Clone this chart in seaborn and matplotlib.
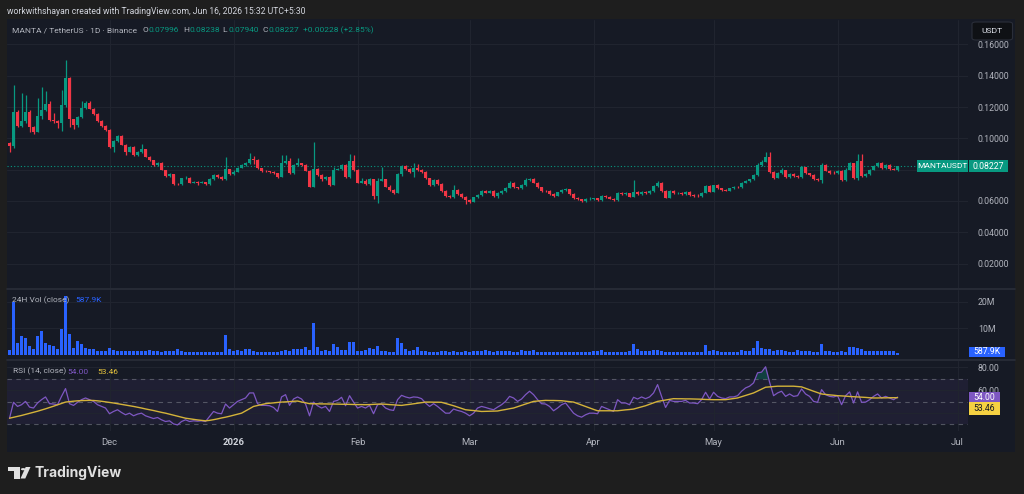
import numpy as np
import pandas as pd
import matplotlib
matplotlib.use("Agg")
import matplotlib.pyplot as plt
import matplotlib.dates as mdates
from matplotlib.patches import Rectangle, Circle, Polygon, FancyBboxPatch
from matplotlib.lines import Line2D
import seaborn as sns

# ---------------- data ----------------
start_date = "2025-11-06"

opens = [
    0.0969, 0.0952, 0.1170, 0.1080, 0.1110, 0.1170, 0.1075, 0.1043, 0.1140, 0.1180,
    0.1220, 0.1118, 0.1110, 0.1096, 0.1213, 0.1384, 0.1122, 0.1086, 0.1135, 0.1192,
    0.1224, 0.1190, 0.1156, 0.1110, 0.1080, 0.1054, 0.0943, 0.0986, 0.1015, 0.0960,
    0.0915, 0.0943, 0.0894, 0.0915, 0.0930, 0.0884, 0.0860, 0.0830, 0.0845, 0.0798,
    0.0760, 0.0772, 0.0709, 0.0707, 0.0745, 0.0750, 0.0717, 0.0722, 0.0715, 0.0722,
    0.0709, 0.0740, 0.0766, 0.0755, 0.0740, 0.0802, 0.0772, 0.0788, 0.0813, 0.0830,
    0.0841, 0.0868, 0.0862, 0.0809, 0.0792, 0.0790, 0.0786, 0.0777, 0.0755, 0.0841,
    0.0856, 0.0781, 0.0830, 0.0841, 0.0830, 0.0794, 0.0692, 0.0802, 0.0766, 0.0738,
    0.0755, 0.0703, 0.0798, 0.0802, 0.0830, 0.0751, 0.0858, 0.0798, 0.0717, 0.0730,
    0.0710, 0.0738, 0.0632, 0.0730, 0.0738, 0.0692, 0.0671, 0.0653, 0.0772, 0.0824,
    0.0803, 0.0787, 0.0808, 0.0798, 0.0787, 0.0745, 0.0702, 0.0734, 0.0709, 0.0664,
    0.0632, 0.0628, 0.0670, 0.0645, 0.0624, 0.0607, 0.0596, 0.0624, 0.0638, 0.0666,
    0.0653, 0.0664, 0.0632, 0.0649, 0.0664, 0.0685, 0.0717, 0.0687, 0.0681, 0.0702,
    0.0734, 0.0738, 0.0717, 0.0687, 0.0666, 0.0662, 0.0645, 0.0634, 0.0655, 0.0670,
    0.0674, 0.0645, 0.0621, 0.0611, 0.0600, 0.0611, 0.0615, 0.0617, 0.0607, 0.0632,
    0.0628, 0.0615, 0.0607, 0.0653, 0.0645, 0.0649, 0.0628, 0.0660, 0.0645, 0.0660,
    0.0649, 0.0664, 0.0696, 0.0717, 0.0664, 0.0621, 0.0664, 0.0649, 0.0653, 0.0645,
    0.0660, 0.0638, 0.0632, 0.0630, 0.0653, 0.0696, 0.0660, 0.0700, 0.0681, 0.0671,
    0.0666, 0.0681, 0.0692, 0.0688, 0.0717, 0.0728, 0.0738, 0.0766, 0.0830, 0.0851,
    0.0883, 0.0787, 0.0749, 0.0776, 0.0798, 0.0755, 0.0772, 0.0760, 0.0755, 0.0815,
    0.0777, 0.0766, 0.0741, 0.0734, 0.0830, 0.0794, 0.0781, 0.0777, 0.0794, 0.0734,
    0.0798, 0.0840, 0.0745, 0.0858, 0.0760, 0.0772, 0.0798, 0.0824, 0.0845, 0.0809,
    0.0830, 0.0802, 0.07996,
]
highs = [
    0.0975, 0.1340, 0.1180, 0.1290, 0.1280, 0.1180, 0.1080, 0.1260, 0.1330, 0.1300,
    0.1240, 0.1160, 0.1115, 0.1310, 0.1501, 0.1390, 0.1125, 0.1140, 0.1240, 0.1240,
    0.1240, 0.1195, 0.1160, 0.1115, 0.1085, 0.1060, 0.0990, 0.1022, 0.1020, 0.0965,
    0.0950, 0.0950, 0.0920, 0.0965, 0.0935, 0.0890, 0.0862, 0.0850, 0.0848, 0.0800,
    0.0778, 0.0775, 0.0716, 0.0750, 0.0760, 0.0755, 0.0728, 0.0725, 0.0726, 0.0724,
    0.0745, 0.0775, 0.0772, 0.0758, 0.0883, 0.0805, 0.0795, 0.0818, 0.0835, 0.0848,
    0.0909, 0.0885, 0.0868, 0.0812, 0.0796, 0.0793, 0.0790, 0.0780, 0.0894, 0.0894,
    0.0875, 0.0835, 0.0875, 0.0845, 0.0836, 0.0800, 0.0979, 0.0808, 0.0770, 0.0760,
    0.0760, 0.0820, 0.0810, 0.0838, 0.0838, 0.0900, 0.0894, 0.0802, 0.0745, 0.0740,
    0.0745, 0.0742, 0.0745, 0.0820, 0.0742, 0.0700, 0.0675, 0.0780, 0.0830, 0.0828,
    0.0810, 0.0840, 0.0836, 0.0805, 0.0792, 0.0748, 0.0740, 0.0738, 0.0712, 0.0668,
    0.0640, 0.0700, 0.0676, 0.0650, 0.0630, 0.0612, 0.0628, 0.0642, 0.0672, 0.0670,
    0.0668, 0.0668, 0.0655, 0.0670, 0.0692, 0.0730, 0.0722, 0.0692, 0.0708, 0.0748,
    0.0750, 0.0748, 0.0720, 0.0690, 0.0670, 0.0668, 0.0648, 0.0660, 0.0676, 0.0680,
    0.0678, 0.0648, 0.0625, 0.0614, 0.0616, 0.0625, 0.0622, 0.0620, 0.0640, 0.0636,
    0.0632, 0.0620, 0.0660, 0.0656, 0.0655, 0.0652, 0.0734, 0.0665, 0.0664, 0.0666,
    0.0670, 0.0702, 0.0730, 0.0722, 0.0668, 0.0670, 0.0668, 0.0660, 0.0658, 0.0665,
    0.0665, 0.0645, 0.0642, 0.0658, 0.0702, 0.0702, 0.0705, 0.0708, 0.0685, 0.0675,
    0.0686, 0.0696, 0.0695, 0.0722, 0.0735, 0.0742, 0.0772, 0.0842, 0.0860, 0.0911,
    0.0911, 0.0790, 0.0785, 0.0808, 0.0800, 0.0778, 0.0778, 0.0768, 0.0822, 0.0820,
    0.0782, 0.0770, 0.0745, 0.0845, 0.0835, 0.0800, 0.0790, 0.0800, 0.0798, 0.0808,
    0.0850, 0.0845, 0.0898, 0.0898, 0.0780, 0.0802, 0.0830, 0.0852, 0.0850, 0.0835,
    0.0835, 0.0812, 0.08238,
]
lows = [
    0.0910, 0.0940, 0.1070, 0.1075, 0.1100, 0.1040, 0.1030, 0.1040, 0.1125, 0.1175,
    0.1110, 0.1100, 0.1065, 0.1050, 0.1200, 0.1070, 0.1060, 0.1070, 0.1130, 0.1185,
    0.1185, 0.1150, 0.1105, 0.1075, 0.1045, 0.0938, 0.0915, 0.0975, 0.0955, 0.0895,
    0.0910, 0.0885, 0.0888, 0.0905, 0.0880, 0.0855, 0.0825, 0.0825, 0.0795, 0.0755,
    0.0755, 0.0700, 0.0700, 0.0700, 0.0740, 0.0712, 0.0712, 0.0705, 0.0712, 0.0702,
    0.0705, 0.0735, 0.0750, 0.0735, 0.0735, 0.0765, 0.0768, 0.0785, 0.0808, 0.0825,
    0.0838, 0.0835, 0.0805, 0.0785, 0.0786, 0.0782, 0.0772, 0.0750, 0.0752, 0.0838,
    0.0775, 0.0775, 0.0826, 0.0825, 0.0790, 0.0690, 0.0690, 0.0760, 0.0730, 0.0735,
    0.0698, 0.0700, 0.0795, 0.0798, 0.0745, 0.0748, 0.0790, 0.0712, 0.0712, 0.0705,
    0.0705, 0.0615, 0.0585, 0.0728, 0.0688, 0.0665, 0.0645, 0.0650, 0.0760, 0.0798,
    0.0782, 0.0752, 0.0792, 0.0782, 0.0740, 0.0698, 0.0698, 0.0705, 0.0660, 0.0628,
    0.0622, 0.0622, 0.0640, 0.0620, 0.0580, 0.0590, 0.0592, 0.0620, 0.0634, 0.0648,
    0.0650, 0.0628, 0.0622, 0.0645, 0.0660, 0.0680, 0.0682, 0.0675, 0.0678, 0.0698,
    0.0730, 0.0712, 0.0682, 0.0660, 0.0658, 0.0640, 0.0628, 0.0630, 0.0650, 0.0665,
    0.0640, 0.0615, 0.0605, 0.0595, 0.0596, 0.0605, 0.0608, 0.0602, 0.0602, 0.0622,
    0.0610, 0.0602, 0.0603, 0.0640, 0.0640, 0.0624, 0.0624, 0.0640, 0.0640, 0.0645,
    0.0645, 0.0660, 0.0690, 0.0660, 0.0617, 0.0617, 0.0645, 0.0645, 0.0640, 0.0640,
    0.0634, 0.0628, 0.0626, 0.0628, 0.0650, 0.0655, 0.0655, 0.0678, 0.0666, 0.0662,
    0.0662, 0.0676, 0.0680, 0.0684, 0.0712, 0.0722, 0.0732, 0.0762, 0.0825, 0.0846,
    0.0780, 0.0740, 0.0745, 0.0770, 0.0750, 0.0750, 0.0755, 0.0750, 0.0750, 0.0770,
    0.0760, 0.0735, 0.0725, 0.0716, 0.0790, 0.0775, 0.0770, 0.0772, 0.0728, 0.0730,
    0.0795, 0.0738, 0.0735, 0.0755, 0.0755, 0.0765, 0.0795, 0.0818, 0.0805, 0.0802,
    0.0798, 0.0795, 0.07940,
]
closes = [
    0.0952, 0.1170, 0.1080, 0.1110, 0.1170, 0.1075, 0.1043, 0.1140, 0.1180, 0.1220,
    0.1118, 0.1110, 0.1096, 0.1213, 0.1384, 0.1122, 0.1086, 0.1135, 0.1192, 0.1224,
    0.1190, 0.1156, 0.1110, 0.1080, 0.1054, 0.0943, 0.0986, 0.1015, 0.0960, 0.0915,
    0.0943, 0.0894, 0.0915, 0.0930, 0.0884, 0.0860, 0.0830, 0.0845, 0.0798, 0.0760,
    0.0772, 0.0709, 0.0707, 0.0745, 0.0750, 0.0717, 0.0722, 0.0715, 0.0722, 0.0709,
    0.0740, 0.0766, 0.0755, 0.0740, 0.0802, 0.0772, 0.0788, 0.0813, 0.0830, 0.0841,
    0.0868, 0.0862, 0.0809, 0.0792, 0.0790, 0.0786, 0.0777, 0.0755, 0.0841, 0.0856,
    0.0781, 0.0830, 0.0841, 0.0830, 0.0794, 0.0692, 0.0802, 0.0766, 0.0738, 0.0755,
    0.0703, 0.0798, 0.0802, 0.0830, 0.0751, 0.0858, 0.0798, 0.0717, 0.0730, 0.0710,
    0.0738, 0.0632, 0.0730, 0.0738, 0.0692, 0.0671, 0.0653, 0.0772, 0.0824, 0.0803,
    0.0787, 0.0808, 0.0798, 0.0787, 0.0745, 0.0702, 0.0734, 0.0709, 0.0664, 0.0632,
    0.0628, 0.0670, 0.0645, 0.0624, 0.0607, 0.0596, 0.0624, 0.0638, 0.0666, 0.0653,
    0.0664, 0.0632, 0.0649, 0.0664, 0.0685, 0.0717, 0.0687, 0.0681, 0.0702, 0.0734,
    0.0738, 0.0717, 0.0687, 0.0666, 0.0662, 0.0645, 0.0634, 0.0655, 0.0670, 0.0674,
    0.0645, 0.0621, 0.0611, 0.0600, 0.0611, 0.0615, 0.0617, 0.0607, 0.0632, 0.0628,
    0.0615, 0.0607, 0.0653, 0.0645, 0.0649, 0.0628, 0.0660, 0.0645, 0.0660, 0.0649,
    0.0664, 0.0696, 0.0717, 0.0664, 0.0621, 0.0664, 0.0649, 0.0653, 0.0645, 0.0660,
    0.0638, 0.0632, 0.0630, 0.0653, 0.0696, 0.0660, 0.0700, 0.0681, 0.0671, 0.0666,
    0.0681, 0.0692, 0.0688, 0.0717, 0.0728, 0.0738, 0.0766, 0.0830, 0.0851, 0.0883,
    0.0787, 0.0749, 0.0776, 0.0798, 0.0755, 0.0772, 0.0760, 0.0755, 0.0815, 0.0777,
    0.0766, 0.0741, 0.0734, 0.0830, 0.0794, 0.0781, 0.0777, 0.0794, 0.0734, 0.0798,
    0.0840, 0.0745, 0.0858, 0.0760, 0.0772, 0.0798, 0.0824, 0.0845, 0.0809, 0.0830,
    0.0802, 0.0800, 0.08227,
]
volumes_m = [
    1.7, 20.1, 4.5, 7.2, 6.2, 3.3, 2.2, 7.2, 9.1, 4.3,
    3.5, 3.3, 2.0, 9.6, 22.3, 7.7, 2.4, 5.3, 4.0, 2.4,
    2.2, 2.2, 1.5, 1.5, 1.5, 2.5, 1.7, 1.5, 1.5, 1.2,
    1.5, 1.2, 1.2, 1.4, 1.4, 1.9, 1.5, 1.4, 1.0, 1.5,
    1.5, 1.5, 2.2, 1.5, 1.0, 1.0, 1.0, 1.0, 1.0, 1.0,
    1.1, 1.0, 1.1, 1.0, 7.5, 2.2, 1.2, 1.6, 1.4, 2.0,
    2.0, 1.2, 1.0, 1.0, 0.9, 1.0, 1.0, 1.0, 1.5, 1.9,
    1.2, 2.1, 2.0, 2.2, 2.8, 1.7, 11.9, 3.0, 1.2, 1.7,
    1.2, 3.9, 2.8, 1.7, 1.7, 4.8, 4.9, 1.5, 1.5, 1.7,
    2.4, 2.2, 3.3, 1.5, 1.2, 1.0, 1.0, 6.2, 4.3, 2.1,
    1.5, 1.7, 3.0, 1.2, 1.2, 1.1, 1.1, 1.0, 1.2, 1.2,
    1.0, 1.2, 1.1, 1.0, 1.2, 1.0, 1.2, 1.5, 1.2, 1.7,
    1.2, 1.0, 1.2, 1.2, 1.2, 1.2, 1.0, 1.1, 1.6, 1.2,
    1.2, 1.7, 0.9, 0.9, 0.9, 0.9, 0.9, 0.9, 0.9, 1.0,
    0.9, 0.9, 0.9, 1.0, 1.0, 1.1, 1.2, 1.2, 1.6, 1.0,
    1.0, 1.0, 1.0, 1.0, 1.1, 1.2, 3.9, 2.1, 1.5, 1.2,
    1.2, 1.9, 1.9, 1.5, 1.0, 0.9, 0.9, 0.9, 0.9, 0.9,
    1.0, 0.9, 1.0, 1.0, 3.5, 1.4, 1.7, 1.2, 1.0, 1.0,
    1.0, 1.0, 1.0, 1.7, 1.5, 1.5, 2.4, 5.3, 2.4, 2.2,
    2.2, 1.4, 1.7, 1.6, 1.2, 1.0, 1.0, 1.6, 1.5, 1.5,
    1.2, 1.0, 1.0, 3.9, 1.5, 1.2, 1.0, 1.0, 1.2, 1.0,
    2.9, 2.9, 2.5, 2.2, 1.5, 1.5, 1.4, 1.2, 1.4, 1.2,
    1.2, 1.2, 0.5879,
]
rsi_values = [
    35.5, 49.4, 45.8, 47.3, 50.2, 45.2, 44.4, 48.8, 51.7, 54.1,
    48.2, 47.9, 47.3, 54.6, 61.4, 48.2, 46.7, 49.4, 51.7, 53.2,
    51.7, 50.2, 47.3, 45.8, 44.4, 39.4, 41.4, 42.9, 40.5, 38.5,
    39.9, 37.6, 39.1, 39.9, 37.6, 36.4, 35.2, 36.1, 34.1, 32.6,
    33.2, 30.5, 29.6, 32.6, 34.1, 32.6, 33.2, 32.9, 33.2, 32.6,
    37.0, 41.4, 39.9, 39.4, 47.9, 44.4, 47.3, 50.2, 51.7, 53.2,
    57.6, 57.6, 48.2, 46.7, 46.7, 46.4, 44.9, 41.4, 54.1, 56.1,
    46.7, 52.3, 54.1, 52.3, 47.9, 37.6, 49.6, 46.4, 44.4, 45.8,
    41.4, 50.2, 51.1, 53.8, 46.4, 55.2, 49.6, 44.4, 45.8, 44.4,
    46.7, 39.4, 47.3, 47.9, 44.4, 42.9, 42.3, 51.7, 55.5, 54.1,
    53.2, 54.1, 53.8, 52.6, 48.8, 45.8, 48.2, 45.8, 42.9, 39.9,
    39.9, 43.5, 42.3, 41.4, 39.9, 37.6, 39.9, 44.4, 45.8, 44.9,
    43.8, 42.9, 45.2, 47.3, 50.2, 54.6, 53.2, 50.2, 52.3, 56.1,
    59.1, 56.1, 51.7, 48.2, 47.9, 45.8, 42.0, 44.4, 47.3, 48.8,
    44.4, 39.9, 37.6, 36.4, 38.5, 39.9, 39.9, 39.4, 45.8, 44.4,
    42.9, 41.4, 51.7, 48.8, 48.8, 47.3, 53.8, 52.3, 54.1, 52.6,
    54.1, 57.6, 64.9, 54.6, 44.9, 51.1, 50.2, 50.2, 50.2, 51.1,
    48.8, 48.8, 48.2, 51.7, 58.2, 52.3, 58.2, 54.6, 53.2, 52.6,
    54.1, 54.1, 55.2, 59.1, 62.0, 63.5, 66.4, 75.2, 75.8, 80.5,
    67.0, 55.2, 57.6, 59.1, 54.6, 56.7, 54.6, 55.2, 61.1, 56.7,
    54.6, 50.2, 49.4, 60.5, 56.1, 54.6, 54.1, 55.2, 47.3, 55.2,
    58.5, 48.8, 58.5, 49.4, 49.6, 51.7, 54.6, 56.7, 53.2, 54.6,
    53.2, 51.7, 54.0,
]
rsi_ma_values = [
    35.5, 36.3, 37.1, 37.9, 38.8, 39.7, 40.6, 41.6, 42.6, 43.7,
    44.8, 46.0, 47.2, 48.4, 49.6, 50.0, 50.4, 50.7, 50.9, 51.0,
    51.1, 51.0, 50.7, 50.3, 49.8, 49.3, 48.8, 48.2, 47.6, 47.0,
    46.4, 45.8, 45.1, 44.4, 43.6, 42.9, 42.2, 41.4, 40.6, 39.9,
    39.0, 38.1, 37.2, 36.3, 35.5, 35.0, 34.5, 34.0, 33.6, 33.2,
    33.6, 34.2, 34.9, 35.7, 36.4, 37.2, 38.1, 39.0, 39.9, 41.8,
    43.8, 45.8, 46.6, 47.4, 48.2, 48.6, 48.9, 49.3, 49.6, 49.8,
    50.0, 50.3, 50.5, 49.7, 49.0, 48.2, 48.1, 48.1, 48.0, 48.0,
    47.9, 47.9, 47.8, 47.7, 47.7, 47.6, 47.5, 47.4, 47.4, 47.3,
    47.4, 47.6, 47.8, 47.9, 47.7, 47.4, 47.2, 46.9, 46.7, 47.2,
    47.6, 48.1, 48.6, 49.1, 49.6, 49.6, 49.5, 49.5, 49.4, 48.4,
    47.4, 46.4, 45.2, 44.1, 42.9, 42.5, 42.2, 41.8, 41.4, 41.5,
    41.6, 41.7, 41.8, 42.5, 43.1, 43.8, 44.4, 45.6, 46.7, 47.9,
    49.0, 50.2, 50.5, 50.8, 51.1, 51.0, 51.0, 50.9, 50.8, 50.4,
    50.0, 49.6, 48.3, 47.0, 45.7, 44.4, 43.2, 42.0, 42.0, 42.0,
    42.0, 42.0, 42.0, 42.4, 42.8, 43.1, 43.5, 44.5, 45.4, 46.4,
    47.7, 48.9, 50.2, 50.8, 51.4, 52.0, 52.6, 52.5, 52.5, 52.4,
    52.4, 52.3, 52.2, 52.1, 51.9, 51.8, 51.7, 51.7, 51.7, 51.7,
    52.2, 52.7, 53.2, 54.3, 55.4, 56.5, 57.6, 59.3, 60.9, 62.6,
    62.9, 63.2, 63.5, 63.5, 63.5, 63.5, 63.5, 63.2, 62.9, 61.6,
    60.4, 59.1, 57.9, 56.7, 56.3, 55.9, 55.6, 55.2, 55.0, 54.8,
    54.5, 54.3, 54.1, 53.9, 53.7, 53.4, 53.2, 53.2, 53.3, 53.3,
    53.4, 53.4, 53.46,
]
price_ticks = [0.02, 0.04, 0.06, 0.08, 0.10, 0.12, 0.14, 0.16]
volume_ticks_m = [10, 20]
rsi_ticks = [40, 60, 80]
rsi_levels = [70, 50, 30]
month_dates = ["2025-12-01", "2026-01-01", "2026-02-01", "2026-03-01",
               "2026-04-01", "2026-05-01", "2026-06-01", "2026-07-01"]
month_labels = ["Dec", "2026", "Feb", "Mar", "Apr", "May", "Jun", "Jul"]

n = len(closes)
assert all(len(a) == n for a in (opens, highs, lows, volumes_m, rsi_values, rsi_ma_values))

# ---------------- style ----------------
sns.set_style("dark")
FONT = ["Roboto", "DejaVu Sans"]
plt.rcParams["font.family"] = FONT

OUTER = "#1e1e1e"
CHART_BG = "#161a25"
GRID = "#20242f"
SEP = "#2a2e39"
UP = "#089981"
DOWN = "#f23645"
VOL = "#2962ff"
RSI_C = "#7e57c2"
MA_LINE = "#d4b33a"
MA_BOX = "#f5d142"
TXT = "#b2b5be"
HEAD = "#d1d4dc"
LEG = 6.0

W, H = 1024, 494
fig = plt.figure(figsize=(W / 100, H / 100), dpi=100, facecolor=OUTER)


def rect(x0, y0, x1, y1):
    return [x0 / W, 1 - y1 / H, (x1 - x0) / W, (y1 - y0) / H]


def ftext(x, y, s, **kw):
    kw.setdefault("va", "center")
    return fig.text(x / W, 1 - y / H, s, **kw)


def fbox(x0, y0, x1, y1, color, z=6, **kw):
    p = Rectangle((x0 / W, 1 - y1 / H), (x1 - x0) / W, (y1 - y0) / H,
                  transform=fig.transFigure, facecolor=color, zorder=z, **kw)
    fig.add_artist(p)
    return p


# chart panel background
fbox(7, 19, 1015, 452, CHART_BG, z=-1, edgecolor="none")

ax_p = fig.add_axes(rect(7, 20, 968, 288))
ax_v = fig.add_axes(rect(7, 290, 968, 358))
ax_r = fig.add_axes(rect(7, 361, 968, 431))

dates = pd.date_range(start_date, periods=n, freq="D")
x = mdates.date2num(dates)
month_x = mdates.date2num(pd.to_datetime(month_dates))
xmin, xmax = x[0] - 0.63, x[0] + 239.6

o = np.array(opens); h = np.array(highs); l = np.array(lows); c = np.array(closes)
up = c >= o
cols = np.where(up, UP, DOWN)

for ax in (ax_p, ax_v, ax_r):
    ax.set_facecolor(CHART_BG)
    for s in ax.spines.values():
        s.set_visible(False)
    ax.set_axisbelow(True)
    ax.set_xticks(month_x)
    ax.grid(True, color=GRID, lw=0.8)
    ax.yaxis.tick_right()
    ax.tick_params(axis="both", length=0, colors=TXT, labelsize=6.3, pad=7)

# ---------------- price candles ----------------
ax_p.vlines(x, np.minimum(l, np.minimum(o, c)), np.maximum(h, np.maximum(o, c)),
            colors=cols, lw=0.9, zorder=2)
ax_p.bar(x, np.maximum(np.abs(c - o), 0.00045), bottom=np.minimum(o, c),
         width=0.66, color=cols, lw=0, zorder=3)
ax_p.axhline(c[-1], color=UP, lw=0.8, ls=(0, (1, 2)), zorder=1)
ax_p.set_ylim(0.00441, 0.17565)
ax_p.set_yticks(price_ticks)
# the 0.08 label sits completely under the last-price tag in the reference
ax_p.set_yticklabels(["" if abs(v - 0.08) < 1e-9 else f"{v:.5f}" for v in price_ticks])
ax_p.tick_params(labelbottom=False)

# ---------------- volume ----------------
ax_v.bar(x, volumes_m, width=0.75, color=VOL, lw=0, zorder=2)
ax_v.set_ylim(-1.29, 24.56)
ax_v.set_yticks(volume_ticks_m)
ax_v.set_yticklabels([f"{v}M" for v in volume_ticks_m])
ax_v.tick_params(labelbottom=False)

# ---------------- RSI ----------------
rsi = np.array(rsi_values)
ax_r.axhspan(30, 70, color=RSI_C, alpha=0.09, lw=0, zorder=0)
for lv in rsi_levels:
    ax_r.axhline(lv, color="#787b86", lw=0.8, ls=(0, (4, 4)), alpha=0.6, zorder=1)
ax_r.fill_between(x, rsi, 70, where=rsi > 70, interpolate=True,
                  color=UP, alpha=0.3, lw=0, zorder=1)
sns.lineplot(x=x, y=rsi_values, ax=ax_r, color=RSI_C, lw=0.9, zorder=3, legend=False)
sns.lineplot(x=x, y=rsi_ma_values, ax=ax_r, color=MA_LINE, lw=1.0, zorder=4, legend=False)
ax_r.set_xlabel(""); ax_r.set_ylabel("")
ax_r.set_ylim(24.3, 85.55)
ax_r.set_yticks(rsi_ticks)
# the 40.00 label is hidden under the value tags in the reference
ax_r.set_yticklabels(["" if v == 40 else f"{v:.2f}" for v in rsi_ticks])
ax_r.set_xticklabels(month_labels)
ax_r.tick_params(axis="x", pad=5, labelsize=6.8)
for t in ax_r.get_xticklabels():
    if t.get_text() == "2026":
        t.set_fontweight("bold")
        t.set_color("#d1d4dc")

for ax in (ax_p, ax_v, ax_r):
    ax.set_xlim(xmin, xmax)

# pane separators
for yy in (289, 359.5):
    fig.add_artist(Line2D([7 / W, 1015 / W], [1 - yy / H, 1 - yy / H],
                          transform=fig.transFigure, color=SEP, lw=1.2, zorder=5))

fig.canvas.draw()


def ypix(ax, val):
    return H - ax.transData.transform((x[0], val))[1]


# ---------------- header texts ----------------
ftext(7, 11.5, "workwithshayan created with TradingView.com, Jun 16, 2026 15:32 UTC+5:30",
      color=HEAD, fontsize=6.2)
ftext(12, 30.5, "MANTA / TetherUS · 1D · Binance", color=TXT, fontsize=LEG)
for lx, letter, val in [(142.7, "O", "0.07996"), (183.3, "H", "0.08238"),
                        (222.7, "L", "0.07940"), (262.7, "C", "0.08227")]:
    ftext(lx, 30.5, letter, color=TXT, fontsize=LEG)
    ftext(lx + 5.8, 30.5, val, color=UP, fontsize=LEG)
ftext(302.7, 30.5, "+0.00228 (+2.85%)", color=UP, fontsize=LEG)

ftext(12.5, 300, "24H Vol (close)", color=TXT, fontsize=LEG)
ftext(75, 300, "587.9K", color=VOL, fontsize=LEG)

ftext(13, 371.5, "RSI (14, close)", color=TXT, fontsize=LEG)
ftext(67.7, 371.5, "54.00", color=RSI_C, fontsize=LEG)
ftext(97.7, 371.5, "53.46", color="#e5c33c", fontsize=LEG)

# USDT box
ub = FancyBboxPatch((972 / W, 1 - 40 / H), 40.5 / W, 18 / H,
                    boxstyle="round,pad=0,rounding_size=0.004",
                    transform=fig.transFigure, facecolor="#0f1115",
                    edgecolor="#2a2e39", lw=0.8, zorder=7)
fig.add_artist(ub)
ftext(992, 31, "USDT", color="#e0e3eb", fontsize=6.1, ha="center", zorder=8)

# last price labels
yc = ypix(ax_p, c[-1])
fbox(917, yc - 6, 967.5, yc + 6, UP, edgecolor="none")
ftext(942, yc, "MANTAUSDT", color="white", fontsize=6.0, ha="center", zorder=8)
fbox(969, yc - 6, 1008, yc + 6, UP, edgecolor="none")
ftext(988.5, yc, f"{c[-1]:.5f}", color="white", fontsize=6.3, ha="center", zorder=8)

yv = min(ypix(ax_v, volumes_m[-1]), 352)
fbox(969, yv - 5, 1005, yv + 5, VOL, edgecolor="none")
ftext(987, yv, "587.9K", color="white", fontsize=6.2, ha="center", zorder=8)

yr = ypix(ax_r, rsi_values[-1])
fbox(969, yr - 5.2, 999.5, yr + 5.2, RSI_C, edgecolor="none")
ftext(984.3, yr, f"{rsi_values[-1]:.2f}", color="white", fontsize=6.2, ha="center", zorder=8)
fbox(969, yr + 5.2, 999.5, yr + 17.5, MA_BOX, edgecolor="none")
ftext(984.3, yr + 11.3, f"{rsi_ma_values[-1]:.2f}", color="#131722", fontsize=6.2,
      ha="center", zorder=8)

# ---------------- TradingView logo ----------------
LOGO = "#e0e0e0"
fbox(8.3, 467, 19.5, 471, LOGO, z=8, edgecolor="none")
fbox(14, 467, 19.5, 478.5, LOGO, z=8, edgecolor="none")
fig.add_artist(Circle((23.2 / W, 1 - 469.2 / H), 2.3 / W, transform=fig.transFigure,
                      facecolor=LOGO, edgecolor="none", zorder=8))
fig.add_artist(Polygon([(20.5 / W, 1 - 478.5 / H), (25.3 / W, 1 - 478.5 / H),
                        (30.5 / W, 1 - 467 / H), (25.7 / W, 1 - 467 / H)],
                       closed=True, transform=fig.transFigure,
                       facecolor=LOGO, edgecolor="none", zorder=8))
ftext(34.5, 472.5, "TradingView", color=LOGO, fontsize=10.0, fontweight="bold",
      family=["Inter", "DejaVu Sans"])

fig.savefig("out.png", dpi=100, facecolor=OUTER)
